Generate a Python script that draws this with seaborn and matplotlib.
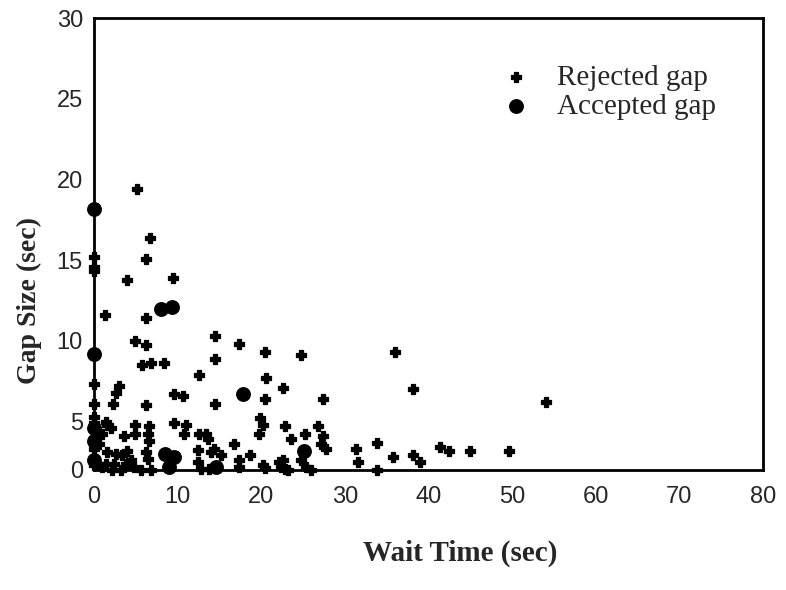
import matplotlib
matplotlib.use("Agg")
import matplotlib.pyplot as plt
import seaborn as sns
import pandas as pd
from matplotlib.ticker import MultipleLocator, FixedLocator

# rejected gaps (wait time, gap size)
rej_wait = [5.2, 6.7, 6.2, 4.0, 9.4, 1.3, 6.2, 14.5, 17.4, 20.4, 4.9, 6.2, 5.8, 6.8, 8.4,
            14.5, 12.5, 20.6, 3.0, 2.6, 2.3, 9.6, 10.7, 20.4, 14.5, 6.2, 19.8, 20.2, 19.7,
            9.6, 11.0, 10.8, 4.9, 4.9, 6.6, 6.5, 6.6, 3.6, 1.6, 2.0, 1.4, 12.6, 13.4, 13.6,
            16.7, 12.4, 14.4, 5.6, 6.8, 12.4, 17.4, 18.6, 20.2, 22.1, 6.2, 6.4, 22.6, 22.8,
            12.8, 14.0, 15.2, 13.8, 17.4, 20.4, 22.6, 22.8, 24.8, 27.4, 26.8, 23.6, 25.2,
            27.4, 27.2, 27.8, 24.8, 25.4, 26.0, 22.4, 23.2, 31.3, 31.6, 33.9, 33.9, 35.8,
            36.0, 38.1, 54.0, 38.2, 39.0, 41.4, 42.5, 45.0, 49.6,
            0, 0, 0, 0, 0, 0, 0, 0, 0, 0,
            1.6, 1.4, 2.6, 2.4, 3.4, 3.8, 3.2, 2.2, 4.4, 4.0, 1.0, 4.8, 0.6, 1.0]
rej_gap = [19.4, 16.4, 15.1, 13.75, 13.9, 11.6, 11.4, 10.3, 9.8, 9.3, 10.0, 9.75, 8.5, 8.6, 8.6,
           8.9, 7.9, 7.7, 7.2, 6.8, 6.1, 6.7, 6.6, 6.4, 6.1, 6.0, 5.25, 4.8, 4.2,
           4.9, 4.8, 4.2, 4.8, 4.2, 4.75, 4.25, 3.8, 4.1, 4.8, 4.6, 5.0, 4.25, 4.2, 3.9,
           3.6, 3.25, 3.3, 2.0, 2.0, 2.5, 2.6, 2.9, 2.3, 2.5, 3.1, 2.7, 7.1, 4.7,
           2.05, 3.1, 2.9, 2.05, 2.2, 2.1, 2.6, 2.05, 9.1, 6.4, 4.7, 3.9, 4.2,
           4.1, 3.6, 3.3, 2.6, 2.2, 2.0, 2.2, 2.0, 3.3, 2.5, 3.7, 2.0, 2.8,
           9.3, 7.0, 6.2, 2.9, 2.5, 3.4, 3.2, 3.2, 3.2,
           15.2, 14.6, 14.3, 7.3, 6.1, 5.3, 4.9, 4.0, 3.3, 2.3,
           3.1, 2.4, 3.0, 2.4, 2.9, 2.4, 2.0, 2.0, 2.6, 3.2, 2.2, 2.2, 3.6, 4.2]

# accepted gaps
acc_wait = [0, 0, 8.0, 9.3, 17.8, 0, 0, 0, 8.5, 9.6, 9.0, 14.6, 25.1]
acc_gap = [18.2, 9.2, 12.0, 12.1, 6.7, 4.6, 3.8, 2.6, 3.0, 2.8, 2.2, 2.2, 3.2]

x_ticks = [0, 10, 20, 30, 40, 50, 60, 70, 80]
y_ticks = [2, 5, 10, 15, 20, 25, 30]
y_tick_labels = ["0", "5", "10", "15", "20", "25", "30"]

rej = pd.DataFrame({"wait": rej_wait, "gap": rej_gap})
acc = pd.DataFrame({"wait": acc_wait, "gap": acc_gap})

sns.set_style("white")
plt.rcParams["font.family"] = ["Liberation Sans", "DejaVu Sans"]

fig = plt.figure(figsize=(7.86, 5.9), dpi=100)
ax = fig.add_axes([0.1196, 0.2034, 0.851, 0.766])

sns.scatterplot(data=rej, x="wait", y="gap", marker="P", s=55, color="black",
                edgecolor="black", linewidth=0.9, ax=ax, label="Rejected gap", clip_on=False)
sns.scatterplot(data=acc, x="wait", y="gap", marker="o", s=115, color="black",
                edgecolor="black", linewidth=0, ax=ax, label="Accepted gap", clip_on=False)

ax.set_xlim(0, 80)
ax.set_ylim(2, 30)
ax.xaxis.set_major_locator(FixedLocator(x_ticks))
ax.xaxis.set_minor_locator(MultipleLocator(5))
ax.yaxis.set_major_locator(FixedLocator(y_ticks))
ax.set_yticklabels(y_tick_labels)
ax.yaxis.set_minor_locator(FixedLocator([7.5, 12.5, 17.5, 22.5, 27.5]))

ax.tick_params(axis="both", which="major", direction="out", length=8, width=2,
               labelsize=17, color="black")
ax.tick_params(axis="both", which="minor", direction="out", length=5, width=1.6,
               color="black")
ax.tick_params(axis="y", pad=0)
for sp in ax.spines.values():
    sp.set_linewidth(2)
    sp.set_color("black")

ax.set_xlabel("Wait Time (sec)", family="Liberation Serif", fontweight="bold",
              fontsize=21)
ax.set_ylabel("Gap Size (sec)", family="Liberation Serif", fontweight="bold",
              fontsize=20)
ax.xaxis.set_label_coords(0.547, -0.155)
ax.yaxis.set_label_coords(-0.078, 0.376)

leg = ax.legend(loc="upper left", bbox_to_anchor=(0.565, 0.93), frameon=False,
                prop={"family": "Liberation Serif", "size": 21},
                handletextpad=0.4, labelspacing=0.1, borderpad=0)

fig.savefig("out.png", dpi=100, facecolor="white")
